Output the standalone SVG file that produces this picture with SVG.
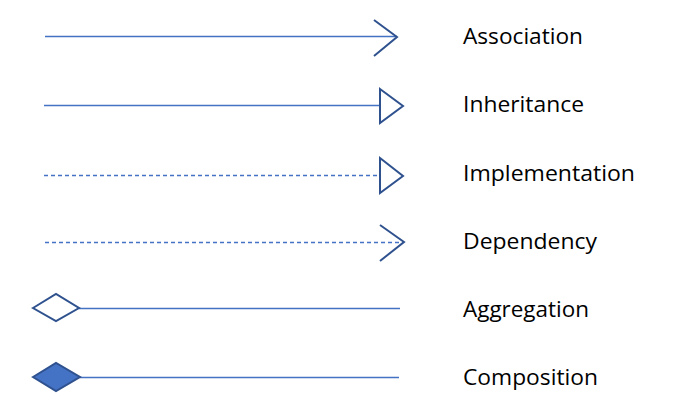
<svg xmlns="http://www.w3.org/2000/svg" width="675" height="420" viewBox="0 0 675 420">
<style>
.ln{stroke:#4472C4;stroke-width:1.4;fill:none}
.dash{stroke-dasharray:4 3}
.hd{stroke:#2F528F;stroke-width:2;fill:#fff;stroke-linejoin:miter}
.open{fill:none}
.solid{fill:#4472C4}
.lbl{font-family:"Open Sans","Noto Sans","Liberation Sans",sans-serif;font-size:21px;fill:#000}
</style>
<rect width="675" height="420" fill="#fff"/>
<g id="connectors">
<line class="ln" x1="45" y1="36.5" x2="397" y2="36.5"/>
<line class="ln" x1="44" y1="105.5" x2="380" y2="105.5"/>
<line class="ln dash" x1="44" y1="175.5" x2="380" y2="175.5"/>
<line class="ln dash" x1="45" y1="242.5" x2="403" y2="242.5"/>
<line class="ln" x1="79" y1="308.5" x2="400" y2="308.5"/>
<line class="ln" x1="80" y1="377.5" x2="399" y2="377.5"/>
</g>
<g id="association">
<polyline class="hd open" points="374,20 397,37 374,56"/>
<text class="lbl" x="463" y="44" textLength="120" lengthAdjust="spacingAndGlyphs">Association</text>
</g>
<g id="inheritance">
<polygon class="hd" points="380,89 403,106 380,123"/>
<text class="lbl" x="463" y="112" textLength="121" lengthAdjust="spacingAndGlyphs">Inheritance</text>
</g>
<g id="implementation">
<polygon class="hd" points="380,158 403,176 380,193"/>
<text class="lbl" x="463" y="181" textLength="172" lengthAdjust="spacingAndGlyphs">Implementation</text>
</g>
<g id="dependency">
<polyline class="hd open" points="380,225 404,242 380,261"/>
<text class="lbl" x="463" y="249" textLength="134" lengthAdjust="spacingAndGlyphs">Dependency</text>
</g>
<g id="aggregation">
<polygon class="hd" points="33,308 56,294 79,308 56,321"/>
<text class="lbl" x="463" y="317" textLength="126" lengthAdjust="spacingAndGlyphs">Aggregation</text>
</g>
<g id="composition">
<polygon class="hd solid" points="33,377 56,363 80,377 56,391"/>
<text class="lbl" x="463" y="385" textLength="135" lengthAdjust="spacingAndGlyphs">Composition</text>
</g>
</svg>
